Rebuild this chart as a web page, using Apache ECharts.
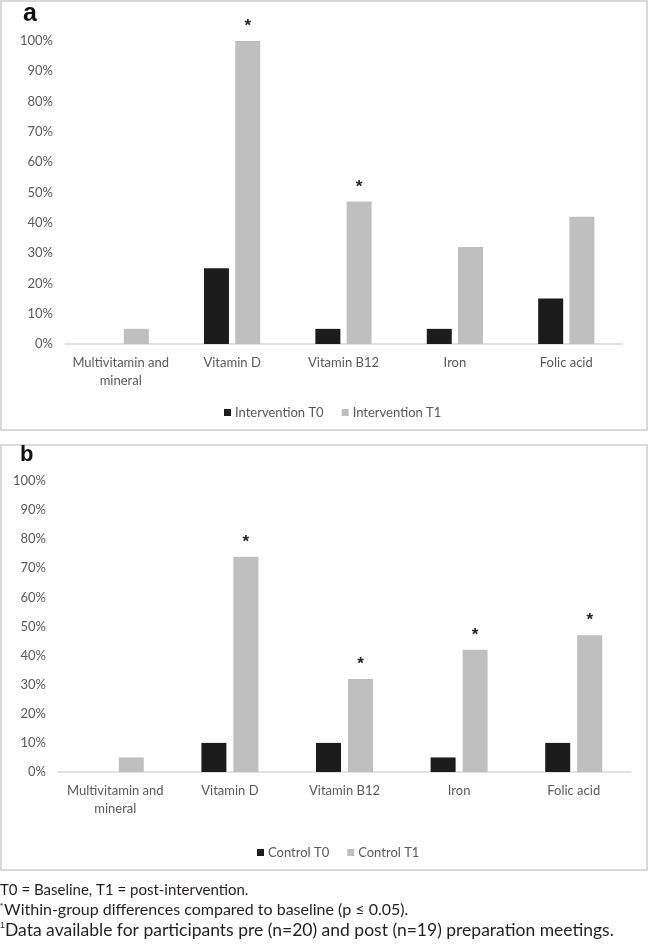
<!DOCTYPE html>
<html>
<head>
<meta charset="utf-8">
<script src="https://cdn.jsdelivr.net/npm/echarts@6/dist/echarts.min.js"></script>
<style>
html,body{margin:0;padding:0;background:#fff;}
#chart{width:650px;height:945px;}
</style>
</head>
<body>
<div id="chart"></div>
<script>
const categories = ['Multivitamin and mineral', 'Vitamin D', 'Vitamin B12', 'Iron', 'Folic acid'];
const yTicks = [0, 10, 20, 30, 40, 50, 60, 70, 80, 90, 100];
const interventionT0 = [0, 25, 5, 5, 15];
const interventionT1 = [5, 100, 47, 32, 42];
const interventionSig = [false, true, true, false, false];
const controlT0 = [0, 10, 10, 5, 10];
const controlT1 = [5, 74, 32, 42, 47];
const controlSig = [false, true, true, true, true];
const footnotes = [
  'T0 = Baseline, T1 = post-intervention.',
  'Within-group differences compared to baseline (p \u2264 0.05).',
  'Data available for participants pre (n=20) and post (n=19) preparation meetings.'
];

const FONT = 'Lato';
const LABEL_COLOR = '#595959';
const DARK = '#1c1c1c';
const GRAY = '#bfbfbf';

function sigData(values, sig) {
  return values.map((v, i) => ({
    value: v,
    label: {
      show: sig[i],
      position: 'top',
      distance: 6,
      formatter: '*',
      fontSize: 17,
      fontWeight: 'bold',
      color: '#222',
      fontFamily: 'Liberation Sans'
    }
  }));
}

function xAxisOf(gridIndex) {
  return {
    type: 'category',
    gridIndex: gridIndex,
    data: categories,
    axisLine: { lineStyle: { color: '#d9d9d9', width: 1.5 } },
    axisTick: { show: false },
    axisLabel: {
      color: LABEL_COLOR,
      fontSize: 13,
      fontFamily: FONT,
      margin: 10,
      lineHeight: 18,
      interval: 0,
      formatter: v => v.replace(' mineral', '\nmineral')
    }
  };
}
function yAxisOf(gridIndex) {
  return {
    type: 'value',
    gridIndex: gridIndex,
    min: yTicks[0],
    max: yTicks[yTicks.length - 1],
    interval: yTicks[1] - yTicks[0],
    splitLine: { show: false },
    axisLine: { show: false },
    axisTick: { show: false },
    axisLabel: {
      color: LABEL_COLOR,
      fontSize: 13,
      fontFamily: FONT,
      margin: 12,
      formatter: '{value}%'
    }
  };
}

const chart = echarts.init(document.getElementById('chart'), null, { renderer: 'canvas' });

const option = {
  animation: false,
  backgroundColor: '#fff',
  textStyle: { fontFamily: FONT },
  grid: [
    { left: 65, right: 28, top: 41, height: 303 },
    { left: 58, right: 19, top: 481, height: 291 }
  ],
  xAxis: [xAxisOf(0), xAxisOf(1)],
  yAxis: [yAxisOf(0), yAxisOf(1)],
  legend: [
    {
      data: ['Intervention T0', 'Intervention T1'],
      left: 219, top: 401,
      icon: 'rect', itemWidth: 7, itemHeight: 7, itemGap: 18,
      textStyle: { color: LABEL_COLOR, fontSize: 13, fontFamily: FONT, padding: [0, 0, 0, -1] }
    },
    {
      data: ['Control T0', 'Control T1'],
      left: 252, top: 841,
      icon: 'rect', itemWidth: 7, itemHeight: 7, itemGap: 18,
      textStyle: { color: LABEL_COLOR, fontSize: 13, fontFamily: FONT, padding: [0, 0, 0, -1] }
    }
  ],
  series: [
    { name: 'Intervention T0', type: 'bar', xAxisIndex: 0, yAxisIndex: 0, data: interventionT0, barWidth: 25, barGap: '25%', itemStyle: { color: DARK } },
    { name: 'Intervention T1', type: 'bar', xAxisIndex: 0, yAxisIndex: 0, data: sigData(interventionT1, interventionSig), barWidth: 25, barGap: '25%', itemStyle: { color: GRAY } },
    { name: 'Control T0', type: 'bar', xAxisIndex: 1, yAxisIndex: 1, data: controlT0, barWidth: 25, barGap: '28%', itemStyle: { color: DARK } },
    { name: 'Control T1', type: 'bar', xAxisIndex: 1, yAxisIndex: 1, data: sigData(controlT1, controlSig), barWidth: 25, barGap: '28%', itemStyle: { color: GRAY } }
  ],
  graphic: [
    { type: 'rect', shape: { x: 1, y: 1, width: 646, height: 429 }, style: { fill: 'none', stroke: '#d9d9d9', lineWidth: 2 }, silent: true },
    { type: 'rect', shape: { x: 1, y: 445, width: 646, height: 425 }, style: { fill: 'none', stroke: '#d9d9d9', lineWidth: 2 }, silent: true },
    { type: 'text', left: 23, top: 2, style: { text: 'a', font: 'bold 25px "Liberation Sans"', fill: '#111' } },
    { type: 'text', left: 20, top: 444, style: { text: 'b', font: 'bold 22px "Liberation Sans"', fill: '#111' } },
    { type: 'text', left: 0, top: 883, style: { text: footnotes[0], font: '15px Lato', fill: '#231f20' } },
    { type: 'text', left: 0, top: 902, style: {
        text: '{sup|*}' + footnotes[1],
        font: '16px Lato', fill: '#231f20',
        rich: { sup: { fontSize: 8, verticalAlign: 'top', padding: [0, 1, 7, 0], fill: '#231f20' } }
      } },
    { type: 'text', left: 0, top: 921, style: {
        text: '{sup|1}' + footnotes[2],
        font: '17.5px Lato', fill: '#231f20',
        rich: { sup: { fontSize: 9, verticalAlign: 'top', padding: [0, 0, 7, 0], fill: '#231f20' } }
      } }
  ]
};
chart.setOption(option);
</script>
</body>
</html>
